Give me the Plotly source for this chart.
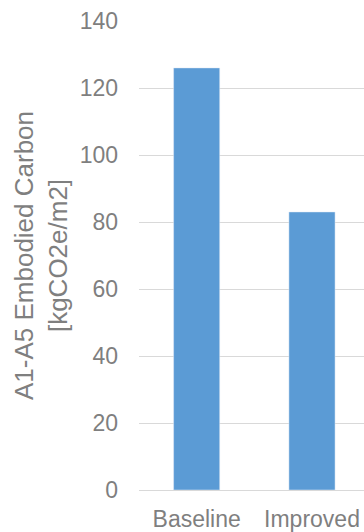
import plotly.graph_objects as go

categories = ["Baseline", "Improved"]
values = [126, 83]
y_ticks = [0, 20, 40, 60, 80, 100, 120, 140]
y_title = "A1-A5 Embodied Carbon<br>[kgCO2e/m2]"

fig = go.Figure(go.Bar(x=categories, y=values, marker_color="#5B9BD5", width=0.4))

fig.update_layout(
    width=364, height=532,
    margin=dict(l=139, r=0, t=21, b=37),
    plot_bgcolor="white", paper_bgcolor="white",
    font=dict(family="Liberation Sans, Arial, sans-serif", color="#7F7F7F", size=23),
    showlegend=False,
)
fig.update_xaxes(range=[-0.5, 1.451], showgrid=False, showline=True, linecolor="#D9D9D9", linewidth=1,
                 tickfont=dict(size=23), ticks="", ticklabelstandoff=8)
fig.update_yaxes(range=[0, 140], tickvals=y_ticks, showgrid=True, gridcolor="#D9D9D9", gridwidth=1,
                 zeroline=False, showline=False, ticks="", ticklabelstandoff=20,
                 tickfont=dict(size=23),
                 title=dict(text=y_title, font=dict(size=26), standoff=4))

fig.write_html("out.html")
